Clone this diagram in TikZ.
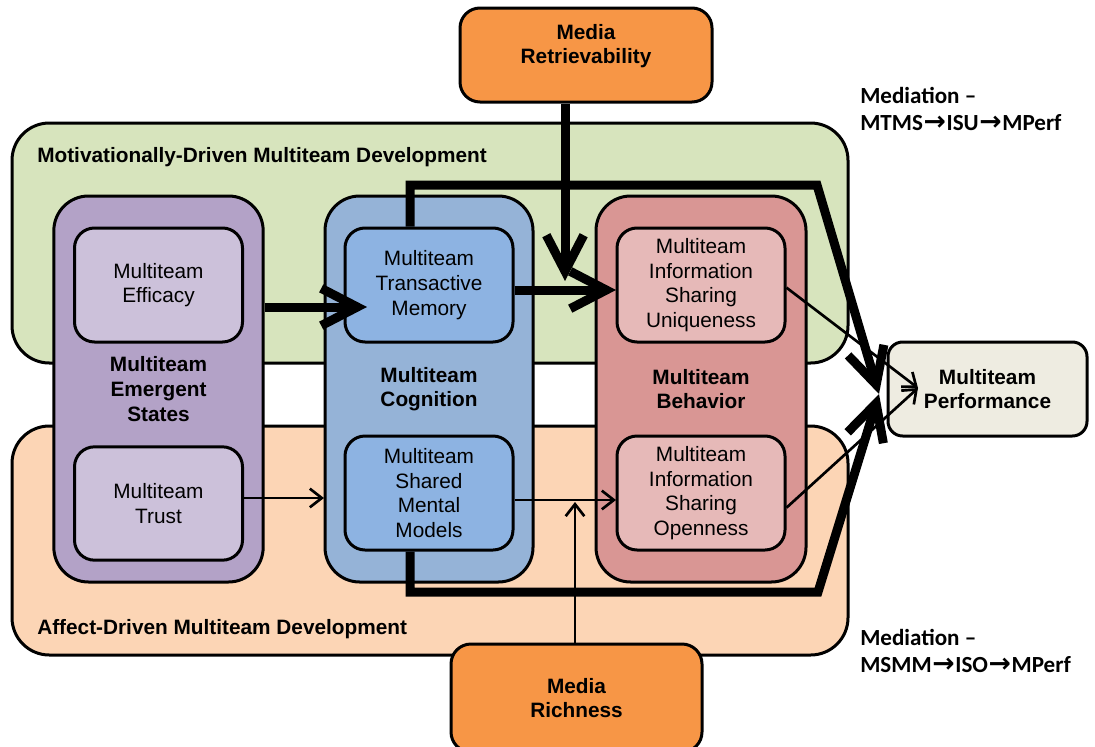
\documentclass[tikz,border=0pt]{standalone}
\usepackage{fontspec}
\setmainfont{Liberation Sans}
\newfontfamily\medfont{Carlito}
\newfontfamily\arrfont{DejaVu Sans}
\usetikzlibrary{arrows.meta}

\definecolor{motgreen}{HTML}{D7E4BD}
\definecolor{affpeach}{HTML}{FCD5B5}
\definecolor{esouter}{HTML}{B3A2C7}
\definecolor{esinner}{HTML}{CCC1DA}
\definecolor{cogouter}{HTML}{95B3D7}
\definecolor{coginner}{HTML}{8DB3E2}
\definecolor{behouter}{HTML}{D99694}
\definecolor{behinner}{HTML}{E6B9B8}
\definecolor{mediaorange}{HTML}{F79646}
\definecolor{perfgrey}{HTML}{EEECE1}

\newcommand{\medarrow}{{\arrfont\fontsize{20pt}{20pt}\selectfont\kern0.5pt→\kern0.5pt}}

\begin{document}
\begin{tikzpicture}[x=0.75pt,y=-0.75pt,
  txt/.style={font=\fontsize{15.6pt}{18.5pt}\selectfont},
  btxt/.style={font=\fontsize{15.6pt}{18.5pt}\selectfont\bfseries},
  base/.style={draw=black, line width=2.25pt, align=center, inner sep=0pt},
  region/.style={base, rounded corners=28pt, minimum width=627pt},
  outerbox/.style={base, btxt, rounded corners=26pt, minimum width=157pt, minimum height=289.5pt},
  innerbox/.style={base, txt, rounded corners=15pt, minimum width=126pt, minimum height=85.5pt},
  mediabox/.style={base, btxt, fill=mediaorange, rounded corners=15pt, minimum width=189pt},
  heavy/.style={line width=6.75pt, -{Straight Barb[length=27pt,width=28pt]}},
  light/.style={line width=2pt, -{Straight Barb[length=9pt,width=14pt]}},
  medtxt/.style={align=left, inner sep=0pt, font=\medfont\bfseries\fontsize{17.3pt}{20.25pt}\selectfont}
]
\useasboundingbox (0,0) rectangle (1095,746);

% development regions
\node[region, fill=motgreen, minimum height=180pt] (mot) at (430,243) {};
\node[region, fill=affpeach, minimum height=171.75pt] (aff) at (430,540.5) {};
\node[btxt, anchor=west, inner sep=0pt] (motTitle) at (37,157) {Motivationally-Driven Multiteam Development};
\node[btxt, anchor=west, inner sep=0pt] (affTitle) at (37,629) {Affect-Driven Multiteam Development};

% emergent states
\node[outerbox, fill=esouter] (es) at (158.5,389) {Multiteam\\Emergent\\States};
\node[innerbox, fill=esinner] (eff) at (158.5,285) {Multiteam\\Efficacy};
\node[innerbox, fill=esinner, minimum height=85pt] (trust) at (158.5,503.5) {Multiteam\\Trust};

% cognition
\node[outerbox, fill=cogouter, minimum width=156pt] (cog) at (429,389) {Multiteam\\Cognition};
\node[innerbox, fill=coginner] (tm) at (429,285) {Multiteam\\Transactive\\Memory};
\node[innerbox, fill=coginner] (smm) at (429,493) {Multiteam\\Shared\\Mental\\Models};

% behavior
\node[outerbox, fill=behouter, minimum width=157.5pt] (beh) at (701,389) {Multiteam\\Behavior};
\node[innerbox, fill=behinner] (isu) at (701,285) {Multiteam\\Information\\Sharing\\Uniqueness};
\node[innerbox, fill=behinner] (iso) at (701,493) {Multiteam\\Information\\Sharing\\Openness};

% outcome and media
\node[base, btxt, fill=perfgrey, rounded corners=11pt, minimum width=149.25pt, minimum height=70.5pt] (perf) at (987.5,389) {Multiteam\\Performance};
\node[mediabox, minimum height=70.5pt] (retr) at (586,55) {};
\node[btxt, align=center, inner sep=0pt] (retrText) at (586,46) {Media\\Retrievability};
\node[mediabox, minimum width=188.25pt, minimum height=81pt] (rich) at (576.5,698) {Media\\Richness};

% mediation notes
\node[medtxt, anchor=west] (medTop) at (860,108.5) {Mediation –\\MTMS\medarrow ISU\medarrow MPerf};
\node[medtxt, anchor=west] (medBot) at (860,650.5) {Mediation –\\MSMM\medarrow ISO\medarrow MPerf};

% connector end points
\coordinate (tmIn) at (367,307);
\coordinate (isuIn) at (616,290);
\coordinate (retrTip) at (565,281);
\coordinate (smmIn) at (324,498);
\coordinate (isoIn) at (616,500);
\coordinate (richTip) at (575,502);
\coordinate (topL) at (410,185);
\coordinate (topR) at (817,185);
\coordinate (botL) at (410,592);
\coordinate (botR) at (818,592);
\coordinate (conv) at (879,394);
\coordinate (perfIn) at (918,388);

% thin paths
\draw[light] (trust.east |- smmIn) -- (smmIn);
\draw[light] (smm.east |- isoIn) -- (isoIn);
\draw[light] (rich.north -| richTip) -- (richTip);
\draw[light] ([yshift=-2pt]isu.east) -- (perfIn);
\draw[light] ([yshift=-11pt]iso.east) -- (perfIn);

% heavy paths
\draw[heavy] (es.east |- tmIn) -- (tmIn);
\draw[heavy] (tm.east |- isuIn) -- (isuIn);
\draw[heavy] (retr.south -| retrTip) -- (retrTip);
\draw[heavy] (tm.north -| topL) -- (topL) -- (topR) -- (conv);
\draw[heavy] (smm.south -| botL) -- (botL) -- (botR) -- (conv);
\end{tikzpicture}
\end{document}
